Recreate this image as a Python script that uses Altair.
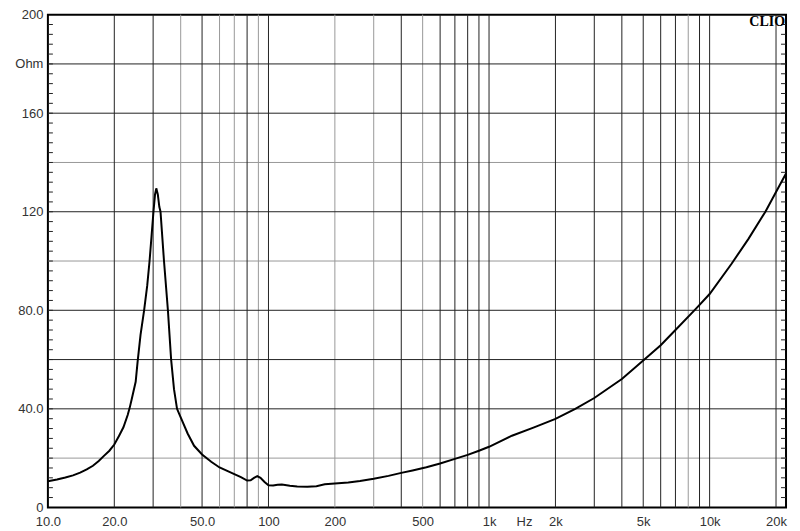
import altair as alt
import pandas as pd

# Impedance curve (Hz, Ohm)
freq = [10, 11, 12, 13, 14, 15, 16, 17, 18, 19, 20, 21, 22, 23, 23.5, 24, 25, 25.5,
        26.3, 27.3, 28.2, 28.9, 29.5, 30.1, 30.6, 31.0, 31.5, 32.0, 32.4, 33.6, 35.0,
        36.2, 37.3, 38.5, 40, 43, 46, 50, 55, 60, 65, 70, 75, 80, 83, 86, 89, 92, 96,
        100, 105, 110, 115, 125, 135, 150, 165, 180, 200, 230, 260, 300, 350, 400, 450,
        520, 600, 700, 800, 900, 1000, 1270, 1600, 2000, 2460, 3000, 4000, 5000, 6000,
        7000, 8700, 10000, 12600, 15000, 17900, 20000, 22200]
ohm = [10.6, 11.3, 12.1, 13.0, 14.1, 15.4, 16.9, 18.8, 21.0, 23.0, 25.5, 29.0, 32.5,
       37.5, 40.5, 44, 51, 59, 70, 80, 90, 100, 110, 120, 127, 129.5, 127, 122, 120,
       100, 80, 60, 48, 40, 36.5, 30, 25, 21.5, 18.5, 16.2, 14.8, 13.5, 12.3, 10.9,
       11.0, 12.0, 12.7, 12.0, 10.3, 9.0, 8.9, 9.2, 9.3, 8.8, 8.5, 8.4, 8.6, 9.4, 9.7,
       10.1, 10.7, 11.6, 12.8, 14.0, 15.0, 16.3, 17.8, 19.7, 21.3, 23.0, 24.6, 29.1,
       32.5, 35.9, 40, 44.4, 52.1, 59.6, 65.8, 72, 80.8, 86.6, 99, 109, 120, 128, 135.5]

# Grid lines
vgrid_dark = [20, 30, 50, 80, 100, 400, 600, 700, 800, 900, 1000, 2000, 3000, 4000,
              5000, 6000, 7000, 9000, 10000, 20000]
vgrid_light = [40, 60, 70, 90, 200, 300, 500, 8000]
hgrid_dark = [40, 60, 80, 120, 160, 180]
hgrid_light = [20, 100, 140]
minor_ticks = list(range(4, 200, 4))

# Axis labels
x_tick_values = [10, 20, 50, 100, 200, 500, 1000, 1440, 2000, 5000, 10000, 20000]
x_tick_labels = ["10.0", "20.0", "50.0", "100", "200", "500", "1k", "Hz", "2k", "5k", "10k", "20k"]
y_tick_values = [0, 40, 80, 120, 160, 180, 200]
y_tick_labels = ["0", "40.0", "80.0", "120", "160", "Ohm", "200"]

W, H = 740, 494
xs = alt.Scale(type="log", domain=[10, 22200], nice=False)
ys = alt.Scale(domain=[0, 200], nice=False, zero=False)


def label_expr(values, labels):
    expr = "''"
    for v, l in reversed(list(zip(values, labels))):
        expr = f"(abs(datum.value - {v}) < 0.001 ? '{l}' : {expr})"
    return expr


x_axis = alt.Axis(values=x_tick_values, labelExpr=label_expr(x_tick_values, x_tick_labels),
                  grid=False, ticks=False, domain=False, labelOverlap=False, labelFlush=False,
                  labelFontSize=13, labelColor="#333", labelFont="Liberation Sans",
                  labelPadding=8, title=None)
y_axis = alt.Axis(values=y_tick_values, labelExpr=label_expr(y_tick_values, y_tick_labels),
                  grid=False, ticks=False, domain=False, labelOverlap=False, labelFlush=False,
                  labelFontSize=13, labelColor="#333", labelFont="Liberation Sans",
                  labelPadding=5, title=None)

curve_df = pd.DataFrame({"freq": freq, "ohm": ohm})

vdark = alt.Chart(pd.DataFrame({"f": vgrid_dark})).mark_rule(color="#222", strokeWidth=1).encode(
    x=alt.X("f:Q", scale=xs, axis=x_axis))
vlight = alt.Chart(pd.DataFrame({"f": vgrid_light})).mark_rule(color="#999", strokeWidth=1).encode(
    x=alt.X("f:Q", scale=xs, axis=x_axis))
hdark = alt.Chart(pd.DataFrame({"o": hgrid_dark})).mark_rule(color="#222", strokeWidth=1).encode(
    y=alt.Y("o:Q", scale=ys, axis=y_axis))
hlight = alt.Chart(pd.DataFrame({"o": hgrid_light})).mark_rule(color="#999", strokeWidth=1).encode(
    y=alt.Y("o:Q", scale=ys, axis=y_axis))

ticks_df = pd.DataFrame({"o": minor_ticks})
lticks = alt.Chart(ticks_df).mark_rule(color="#222", strokeWidth=1).encode(
    y=alt.Y("o:Q", scale=ys, axis=y_axis), x=alt.value(0), x2=alt.value(5))
rticks = alt.Chart(ticks_df).mark_rule(color="#222", strokeWidth=1).encode(
    y=alt.Y("o:Q", scale=ys, axis=y_axis), x=alt.value(W - 5), x2=alt.value(W))

curve = alt.Chart(curve_df).mark_line(color="#000", strokeWidth=2, clip=True).encode(
    x=alt.X("freq:Q", scale=xs, axis=x_axis),
    y=alt.Y("ohm:Q", scale=ys, axis=y_axis),
)

clio = alt.Chart(pd.DataFrame({"t": ["CLIO"]})).mark_text(
    font="Liberation Serif", fontWeight="bold", fontSize=14, align="right",
    baseline="alphabetic", color="#000").encode(
    x=alt.value(W - 1), y=alt.value(11), text="t:N")

chart = alt.layer(vlight, hlight, vdark, hdark, lticks, rticks, curve, clio).properties(
    width=W, height=H,
    autosize=alt.AutoSizeParams(type="none"),
    padding={"left": 40, "top": 6, "right": 6, "bottom": 22},
    background="white",
).configure_view(stroke="#000", strokeWidth=2)

chart.save("out.html", embed_options={"renderer": "svg", "actions": False})
